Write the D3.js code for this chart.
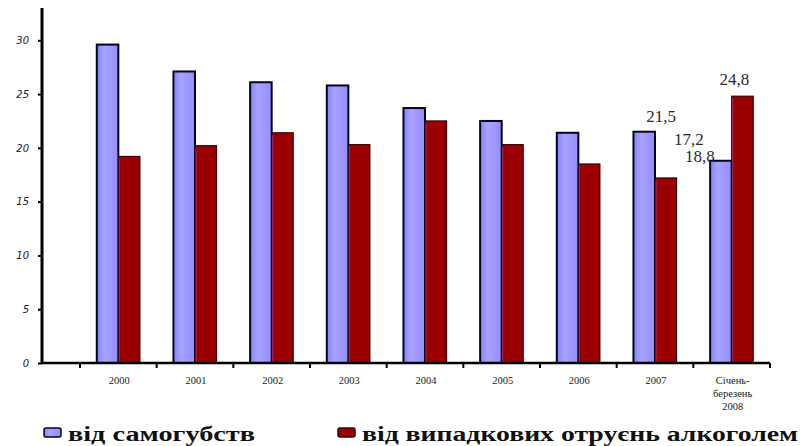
<!DOCTYPE html>
<html>
<head>
<meta charset="utf-8">
<script src="https://cdn.jsdelivr.net/npm/d3@7"></script>
<style>
  body { margin: 0; background: #fff; }
  svg { display: block; }
</style>
</head>
<body>
<div id="chart"></div>
<script>
const categories = ['2000', '2001', '2002', '2003', '2004', '2005', '2006', '2007', 'Січень-\nберезень\n2008']
const series = ['від самогубств', 'від випадкових отруєнь алкоголем']
const suicides = [29.6, 27.1, 26.1, 25.8, 23.7, 22.5, 21.4, 21.5, 18.8]
const poisonings = [19.2, 20.2, 21.4, 20.3, 22.5, 20.3, 18.5, 17.2, 24.8]
const yTicks = [0, 5, 10, 15, 20, 25, 30]
// only the last two groups carry value labels
const labelled = [
    {cat: 7, s: 0, text: '21,5', dx: 17, dy: -10},
    {cat: 7, s: 1, text: '17,2', dx: 23, dy: -33},
    {cat: 8, s: 0, text: '18,8', dx: -21, dy: 1},
    {cat: 8, s: 1, text: '24,8', dx: -8, dy: -11}
]

const width = 803, height = 446
const axisX = 42, axisTop = 8, axisBottom = 363

const svg = d3.select('#chart').append('svg')
    .attr('width', width)
    .attr('height', height)

const defs = svg.append('defs')
const grad = defs.append('linearGradient').attr('id', 'blueFill')
grad.append('stop').attr('offset', '0%').attr('stop-color', '#7f86ff')
grad.append('stop').attr('offset', '35%').attr('stop-color', '#a9a2ff')
grad.append('stop').attr('offset', '100%').attr('stop-color', '#938cff')

const x = d3.scaleBand()
    .domain(d3.range(categories.length))
    .range([80, 770])

const x1 = d3.scaleBand()
    .domain([0, 1])
    .range([0, x.bandwidth()])
    .paddingOuter(0.78)

const y = d3.scaleLinear()
    .domain([0, 33])
    .range([axisBottom, axisTop])

const values = [suicides, poisonings]
const fills = ['url(#blueFill)', '#9b0000']
const strokes = ['#05051a', '#3a0008']
const strokeW = [2, 1.2]

// bars
const rows = []
categories.forEach((c, i) => {
    values.forEach((arr, s) => rows.push({i: i, s: s, v: arr[i]}))
})

// draw red first so blue outline sits on top
const bars = svg.append('g').attr('class', 'bars')
bars.selectAll('rect')
    .data(rows.sort((a, b) => b.s - a.s))
    .enter()
    .append('rect')
    .attr('x', d => x(d.i) + x1(d.s))
    .attr('y', d => y(d.v))
    .attr('width', x1.bandwidth())
    .attr('height', d => y(0) - y(d.v))
    .attr('fill', d => fills[d.s])
    .attr('stroke', d => strokes[d.s])
    .attr('stroke-width', d => strokeW[d.s])

// pinkish edge on the red bars
bars.selectAll('line.edge')
    .data(rows.filter(d => d.s === 1))
    .enter()
    .append('line')
    .attr('class', 'edge')
    .attr('x1', d => x(d.i) + x1(1) + 1)
    .attr('x2', d => x(d.i) + x1(1) + 1)
    .attr('y1', d => y(d.v) + 2)
    .attr('y2', y(0))
    .attr('stroke', '#d04090')
    .attr('stroke-width', 1)
    .attr('opacity', 0.7)

// y axis
const yAxis = d3.axisLeft(y)
    .tickValues(yTicks)
    .tickSize(4)
    .tickPadding(9)

const yg = svg.append('g')
    .attr('transform', `translate(${axisX},0)`)
    .call(yAxis)
yg.select('.domain').remove()
yg.selectAll('.tick line').attr('stroke', '#000').attr('stroke-width', 2)
yg.selectAll('.tick text')
    .style('font-family', '"DejaVu Sans", sans-serif')
    .style('font-size', '10px')
    .style('font-style', 'italic')
    .attr('fill', '#222')

svg.append('line')
    .attr('x1', axisX).attr('x2', axisX)
    .attr('y1', axisTop).attr('y2', axisBottom + 1)
    .attr('stroke', '#000')
    .attr('stroke-width', 3)

// x axis
svg.append('line')
    .attr('x1', axisX).attr('x2', x.range()[1])
    .attr('y1', axisBottom).attr('y2', axisBottom)
    .attr('stroke', '#000')
    .attr('stroke-width', 2.5)

const bounds = categories.map((c, i) => x(i)).concat([x.range()[1]])
svg.append('g').selectAll('line')
    .data(bounds)
    .enter()
    .append('line')
    .attr('x1', d => d).attr('x2', d => d)
    .attr('y1', axisBottom).attr('y2', axisBottom + 5)
    .attr('stroke', '#000')
    .attr('stroke-width', 2)

const xl = svg.append('g').selectAll('text')
    .data(categories)
    .enter()
    .append('text')
    .attr('x', (d, i) => x(i) + x.bandwidth() / 2 + 1)
    .attr('y', 384)
    .attr('text-anchor', 'middle')
    .style('font-family', '"Liberation Serif", serif')
    .style('font-size', '10.5px')
    .attr('fill', '#222')
xl.each(function(d) {
    const lines = d.split('\n')
    d3.select(this).selectAll('tspan')
        .data(lines)
        .enter()
        .append('tspan')
        .attr('x', d3.select(this).attr('x'))
        .attr('dy', (l, k) => k === 0 ? 0 : 13)
        .text(l => l)
})

// value labels
svg.append('g').selectAll('text')
    .data(labelled)
    .enter()
    .append('text')
    .attr('x', d => x(d.cat) + x1(d.s) + x1.bandwidth() / 2 + d.dx)
    .attr('y', d => y(values[d.s][d.cat]) + d.dy)
    .attr('text-anchor', 'middle')
    .style('font-family', '"Liberation Serif", serif')
    .style('font-size', '17px')
    .attr('fill', '#2a2a2a')
    .text(d => d.text)

// legend
const legendItems = [
    {s: 0, x: 43, w: 187},
    {s: 1, x: 337, w: 436}
]
const legend = svg.append('g').attr('class', 'legend')
legend.selectAll('rect')
    .data(legendItems)
    .enter()
    .append('rect')
    .attr('x', d => d.x + 1)
    .attr('y', 428)
    .attr('width', 17)
    .attr('height', 9)
    .attr('rx', 2)
    .attr('fill', d => fills[d.s])
    .attr('stroke', d => strokes[d.s])
    .attr('stroke-width', 1.5)

legend.selectAll('text')
    .data(legendItems)
    .enter()
    .append('text')
    .attr('x', d => d.x + 25)
    .attr('y', 441)
    .attr('textLength', d => d.w)
    .attr('lengthAdjust', 'spacingAndGlyphs')
    .style('font-family', '"Liberation Serif", serif')
    .style('font-size', '20px')
    .style('font-weight', 'bold')
    .attr('fill', '#111')
    .text(d => series[d.s])
</script>
</body>
</html>
